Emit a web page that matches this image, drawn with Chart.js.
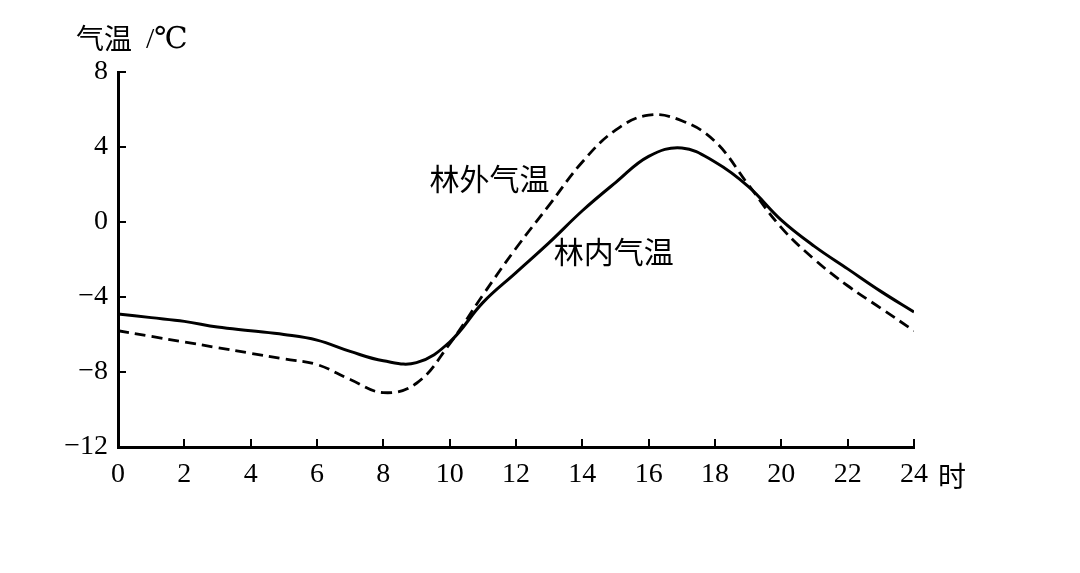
<!DOCTYPE html>
<html>
<head>
<meta charset="utf-8">
<script src="https://cdn.jsdelivr.net/npm/chart.js@4/dist/chart.umd.min.js"></script>
<style>
  html, body { margin: 0; padding: 0; background: #fff; }
  #c { display: block; }
</style>
</head>
<body>
<canvas id="c" width="1080" height="573"></canvas>
<script>
// hours of the day
const hours = [0,1,2,3,4,5,6,7,8,9,10,11,12,13,14,15,16,17,18,19,20,21,22,23,24];
// 林内气温 (solid)
const insideTemp = [-4.9,-5.1,-5.3,-5.6,-5.8,-6.0,-6.3,-6.9,-7.4,-7.5,-6.4,-4.3,-2.7,-1.1,0.6,2.1,3.5,3.95,3.2,1.9,0.1,-1.3,-2.5,-3.7,-4.8];
// 林外气温 (dashed)
const outsideTemp = [-5.8,-6.1,-6.4,-6.7,-7.0,-7.3,-7.6,-8.4,-9.1,-8.6,-6.5,-3.9,-1.4,0.9,3.2,4.9,5.7,5.4,4.3,2.0,-0.3,-2.0,-3.4,-4.6,-5.8];
const yTicks = [-12,-8,-4,0,4,8];
const xTicks = [0,2,4,6,8,10,12,14,16,18,20,22,24];

const cjk = '"Noto Sans CJK SC", "Noto Sans", sans-serif';
const serif = '"Liberation Serif", "DejaVu Serif", serif';

const pts = arr => hours.map((h, i) => ({ x: h, y: arr[i] }));

// inward ticks + extra texts
const extras = {
    id: 'extras',
    afterDraw: (chart) => {
        const { ctx, scales: { x, y } } = chart;
        ctx.save();
        ctx.strokeStyle = '#000';
        ctx.lineWidth = 2;
        const x0 = x.getPixelForValue(0);
        const y0 = y.getPixelForValue(-12);
        // x ticks pointing up
        xTicks.forEach(v => {
            if (v === 0) return;
            const px = Math.round(x.getPixelForValue(v));
            ctx.beginPath();
            ctx.moveTo(px, y0);
            ctx.lineTo(px, y0 - 8);
            ctx.stroke();
        });
        // y ticks pointing right
        yTicks.forEach(v => {
            if (v === -12) return;
            const py = Math.round(y.getPixelForValue(v));
            ctx.beginPath();
            ctx.moveTo(x0, py);
            ctx.lineTo(x0 + 8, py);
            ctx.stroke();
        });

        ctx.fillStyle = '#000';
        ctx.textBaseline = 'middle';
        // axis title
        ctx.font = '28px ' + cjk;
        ctx.textAlign = 'left';
        ctx.fillText('气温', 76, 38);
        ctx.font = '30px ' + serif;
        ctx.fillText('/℃', 146, 40);
        // unit after 24
        ctx.font = '28px ' + cjk;
        ctx.fillText('时', x.getPixelForValue(24) + 24, 476);
        // series labels
        ctx.font = '30px ' + cjk;
        ctx.textAlign = 'center';
        ctx.fillText('林外气温', x.getPixelForValue(11.2), y.getPixelForValue(2.3));
        ctx.fillText('林内气温', x.getPixelForValue(14.95), y.getPixelForValue(-1.6));
        ctx.restore();
    }
};

new Chart(document.getElementById('c'), {
    type: 'line',
    data: {
        datasets: [
            {
                label: '林内气温',
                data: pts(insideTemp),
                borderColor: '#000',
                borderWidth: 3,
                pointRadius: 0,
                tension: 0.4,
                fill: false
            },
            {
                label: '林外气温',
                data: pts(outsideTemp),
                borderColor: '#000',
                borderWidth: 2.8,
                borderDash: [11, 6],
                pointRadius: 0,
                tension: 0.4,
                fill: false
            }
        ]
    },
    options: {
        responsive: false,
        animation: false,
        layout: { padding: { left: 0, top: 72, right: 166, bottom: 86 } },
        plugins: { legend: { display: false }, tooltip: { enabled: false } },
        scales: {
            x: {
                type: 'linear',
                min: 0, max: 24,
                afterBuildTicks: (s) => { s.ticks = xTicks.map(v => ({ value: v })); },
                afterFit: (s) => { s.height = 40; },
                grid: { display: true, drawOnChartArea: false, drawTicks: false },
                border: { display: true, color: '#000', width: 3 },
                ticks: {
                    color: '#000',
                    padding: 11,
                    maxRotation: 0,
                    font: { family: serif, size: 28 }
                }
            },
            y: {
                type: 'linear',
                min: -12, max: 8,
                afterBuildTicks: (s) => { s.ticks = yTicks.map(v => ({ value: v })); },
                afterFit: (s) => { s.width = 118; },
                grid: { display: true, drawOnChartArea: false, drawTicks: false },
                border: { display: true, color: '#000', width: 3 },
                ticks: {
                    color: '#000',
                    padding: 10,
                    font: { family: serif, size: 28 },
                    callback: (v) => v < 0 ? '−' + Math.abs(v) : String(v)
                }
            }
        }
    },
    plugins: [extras]
});
</script>
</body>
</html>
